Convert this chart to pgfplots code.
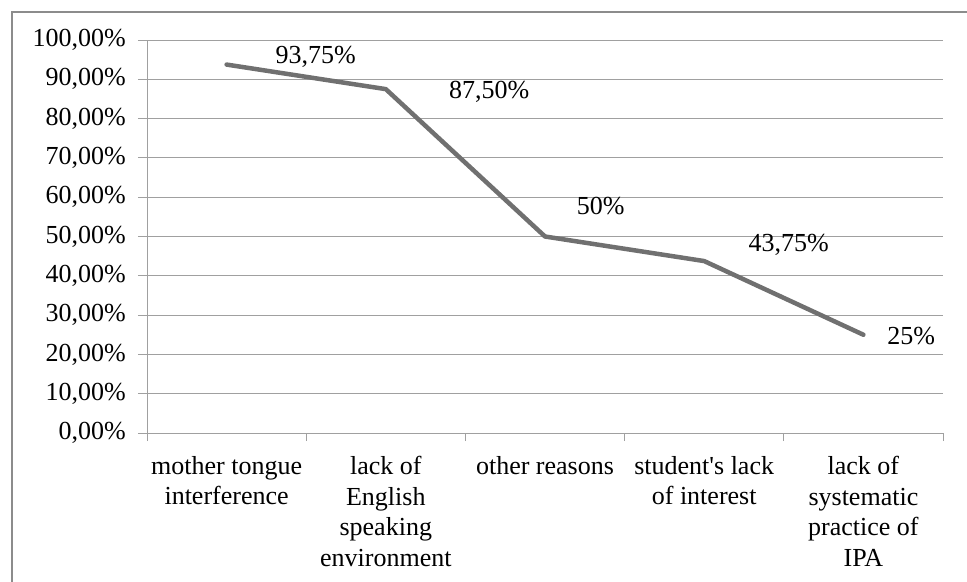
\documentclass[border=0pt]{standalone}
\usepackage{pgfplots}
\pgfplotsset{compat=1.18}
\usepackage{fontspec}
\setmainfont{Liberation Serif}[Ligatures=TeXOff]

\definecolor{seriesgray}{RGB}{112,112,112}
\definecolor{gridgray}{RGB}{160,160,160}
\definecolor{framegray}{RGB}{140,140,140}

\newcommand{\chartfont}{\fontsize{26bp}{30.5bp}\selectfont}

\begin{document}
\begin{tikzpicture}
  % page extent and outer frame
  \path[use as bounding box] (0,0) rectangle (967bp,-582bp);
  \draw[framegray, line width=2.5bp] (12bp,-582bp) -- (12bp,-12bp) -- (967bp,-12bp);

  \begin{axis}[
    at={(147bp,-433bp)}, anchor=south west,
    scale only axis,
    width=796bp, height=393bp,
    xmin=-0.5, xmax=4.5,
    ymin=0, ymax=100,
    axis x line*=bottom,
    axis y line*=left,
    axis line style={gridgray, line width=1bp},
    xtick={0,1,2,3,4},
    xticklabels={{mother tongue\\interference},
                 {lack of\\English\\speaking\\environment},
                 {other reasons},
                 {student's lack\\of interest},
                 {lack of\\systematic\\practice of\\IPA}},
    minor xtick={-0.5,0.5,1.5,2.5,3.5,4.5},
    major x tick style={draw=none},
    minor x tick style={gridgray, line width=1bp},
    minor tick length=8bp,
    ytick={0,10,...,100},
    major y tick style={gridgray, line width=1bp},
    major tick length=9bp,
    tick align=outside,
    ymajorgrids,
    major grid style={gridgray, line width=1bp},
    /pgf/number format/assume math mode=true,
    yticklabel={\pgfmathprintnumber[fixed,fixed zerofill,precision=2,use comma]{\tick}\%},
    tick label style={font=\chartfont, text=black},
    xticklabel style={align=center, anchor=north, inner sep=0pt, yshift=-14bp},
    yticklabel style={anchor=east, inner sep=0pt, xshift=-12bp},
    clip=false,
  ]
    \addplot[seriesgray, line width=4.5bp, line join=round, line cap=round]
      coordinates {(0,93.75) (1,87.5) (2,50) (3,43.75) (4,25)};

    % value labels
    \begin{scope}[every node/.style={font=\chartfont, anchor=base, inner sep=0pt}]
      \node at (axis cs:0.56,93.9) {93,75\%};
      \node at (axis cs:1.65,85.0) {87,50\%};
      \node at (axis cs:2.35,55.7) {50\%};
      \node at (axis cs:3.53,46.3) {43,75\%};
      \node at (axis cs:4.30,22.4) {25\%};
    \end{scope}
  \end{axis}
\end{tikzpicture}
\end{document}
